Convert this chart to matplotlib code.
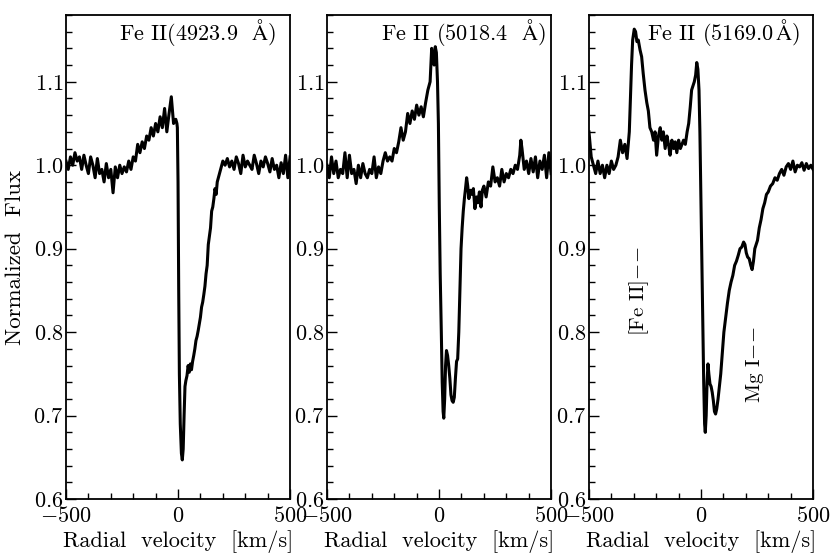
import matplotlib
matplotlib.use("Agg")
import matplotlib.pyplot as plt
from matplotlib.ticker import MultipleLocator

plt.rcParams['font.family'] = ['cmr10', 'DejaVu Serif']
plt.rcParams['mathtext.fontset'] = 'cm'
plt.rcParams['axes.formatter.use_mathtext'] = True
plt.rcParams['axes.unicode_minus'] = True

# Fe II 4923.9
vel_4923 = [-500, -490, -480, -470, -460, -450, -440, -430, -420, -410, -400, -390, -380, -370,
            -360, -350, -340, -330, -320, -310, -300, -290, -280, -270, -260, -250, -240, -230,
            -220, -210, -200, -190, -180, -170, -160, -150, -140, -130, -120, -110, -100, -90,
            -80, -70, -60, -50, -40, -30, -20, -10, -5, -3, 0, 3, 6, 10, 15, 19, 23, 27, 31, 35,
            40, 45, 50, 55, 60, 65, 70, 75, 80, 85, 90, 95, 100, 105, 110, 115, 120, 125, 130,
            135, 140, 145, 150, 155, 160, 165, 170, 175, 180, 190, 200, 210, 220, 230, 240, 250,
            260, 270, 280, 290, 300, 310, 320, 330, 340, 350, 360, 370, 380, 390, 400, 410, 420,
            430, 440, 450, 460, 470, 480, 490, 500]
flux_4923 = [1.005, 0.995, 1.010, 1.000, 1.015, 1.005, 1.010, 0.995, 1.012, 1.000, 0.990, 1.010,
             1.000, 0.985, 1.008, 0.990, 0.995, 0.980, 1.002, 0.985, 0.995, 0.967, 0.998, 0.985,
             1.000, 0.990, 0.998, 0.992, 1.005, 0.995, 1.010, 1.005, 1.025, 1.015, 1.028, 1.020,
             1.035, 1.030, 1.045, 1.035, 1.050, 1.040, 1.058, 1.045, 1.068, 1.040, 1.062, 1.082,
             1.050, 1.055, 1.050, 1.045, 0.980, 0.850, 0.750, 0.690, 0.655, 0.647, 0.660, 0.700,
             0.735, 0.742, 0.748, 0.760, 0.752, 0.762, 0.755, 0.765, 0.772, 0.780, 0.790, 0.795,
             0.802, 0.810, 0.818, 0.830, 0.836, 0.845, 0.855, 0.870, 0.880, 0.905, 0.915, 0.925,
             0.945, 0.950, 0.960, 0.972, 0.965, 0.980, 0.985, 0.995, 1.005, 1.000, 1.008, 0.998,
             1.005, 0.995, 1.010, 1.002, 0.990, 1.012, 0.998, 1.005, 1.000, 0.995, 1.012, 1.002,
             0.990, 1.005, 0.998, 1.010, 1.002, 0.992, 1.008, 0.995, 1.000, 0.985, 1.003, 0.990,
             1.012, 0.985, 1.010]

# Fe II 5018.4
vel_5018 = [-500, -490, -480, -470, -460, -450, -440, -430, -420, -410, -400, -390, -380, -370,
            -360, -350, -340, -330, -320, -310, -300, -290, -280, -270, -260, -250, -240, -230,
            -220, -210, -200, -190, -180, -170, -160, -150, -140, -130, -120, -110, -100, -90,
            -80, -70, -60, -50, -40, -33, -28, -22, -17, -12, -7, -3, 1, 5, 10, 14, 18, 21, 25,
            29, 33, 38, 43, 48, 53, 58, 63, 68, 73, 78, 83, 88, 93, 98, 103, 108, 113, 118, 123,
            128, 133, 140, 147, 153, 160, 167, 173, 180, 187, 193, 200, 210, 220, 230, 240, 250,
            260, 270, 280, 290, 300, 310, 320, 330, 340, 350, 360, 365, 370, 380, 390, 400, 410,
            420, 430, 440, 450, 460, 470, 480, 490, 500]
flux_5018 = [1.000, 0.985, 1.010, 0.990, 1.005, 0.985, 0.995, 0.990, 1.015, 0.985, 1.012, 0.990,
             0.995, 0.978, 1.000, 0.985, 1.002, 0.990, 0.985, 0.995, 0.990, 1.010, 0.985, 0.998,
             0.990, 1.005, 1.015, 1.005, 1.010, 1.005, 1.020, 1.015, 1.028, 1.045, 1.030, 1.040,
             1.062, 1.050, 1.065, 1.055, 1.072, 1.060, 1.070, 1.058, 1.075, 1.090, 1.100, 1.140,
             1.125, 1.120, 1.142, 1.135, 1.100, 1.050, 0.950, 0.870, 0.800, 0.740, 0.705, 0.697,
             0.720, 0.760, 0.778, 0.772, 0.760, 0.745, 0.725, 0.718, 0.716, 0.722, 0.745, 0.765,
             0.768, 0.800, 0.850, 0.900, 0.925, 0.945, 0.960, 0.972, 0.985, 0.975, 0.960, 0.970,
             0.965, 0.972, 0.948, 0.962, 0.955, 0.968, 0.950, 0.970, 0.975, 0.962, 0.980, 0.975,
             0.998, 0.980, 0.985, 0.975, 0.995, 0.980, 0.990, 0.985, 0.995, 0.990, 1.000, 0.995,
             1.012, 1.030, 1.020, 0.995, 1.005, 0.990, 1.008, 0.992, 1.010, 0.985, 1.005, 0.995,
             1.012, 0.985, 1.015, 0.990]

# Fe II 5169.0
vel_5169 = [-500, -495, -490, -480, -470, -460, -450, -440, -430, -420, -410, -400, -390, -380,
            -370, -360, -350, -340, -330, -320, -315, -310, -305, -298, -292, -286, -280, -272,
            -265, -258, -250, -242, -235, -228, -220, -212, -205, -198, -190, -182, -175, -168,
            -160, -152, -145, -138, -130, -122, -115, -108, -100, -92, -85, -78, -70, -62, -55,
            -48, -42, -36, -30, -24, -19, -14, -9, -5, 0, 4, 8, 12, 16, 19, 23, 27, 31, 35, 40,
            45, 50, 55, 60, 65, 70, 76, 82, 88, 95, 102, 110, 118, 126, 134, 142, 150, 158, 166,
            174, 182, 190, 196, 202, 208, 215, 222, 228, 234, 240, 246, 252, 260, 268, 276, 284,
            292, 300, 310, 320, 330, 340, 350, 360, 370, 380, 390, 400, 410, 420, 430, 440, 450,
            460, 470, 480, 490, 500]
flux_5169 = [1.040, 1.025, 1.010, 1.000, 0.990, 1.005, 0.990, 1.000, 0.985, 1.000, 0.990, 1.005,
             0.995, 1.000, 1.010, 1.030, 1.015, 1.025, 1.008, 1.040, 1.080, 1.120, 1.150, 1.163,
             1.160, 1.148, 1.150, 1.138, 1.130, 1.110, 1.090, 1.075, 1.065, 1.045, 1.040, 1.030,
             1.040, 1.012, 1.035, 1.045, 1.030, 1.040, 1.020, 1.035, 1.025, 1.012, 1.030, 1.020,
             1.028, 1.015, 1.030, 1.020, 1.025, 1.030, 1.025, 1.040, 1.050, 1.070, 1.090, 1.095,
             1.100, 1.108, 1.123, 1.115, 1.090, 1.040, 0.950, 0.870, 0.800, 0.740, 0.690, 0.680,
             0.700, 0.740, 0.762, 0.750, 0.738, 0.735, 0.728, 0.718, 0.705, 0.702, 0.708, 0.720,
             0.735, 0.750, 0.775, 0.800, 0.818, 0.835, 0.850, 0.860, 0.868, 0.880, 0.885, 0.892,
             0.900, 0.902, 0.908, 0.905, 0.895, 0.890, 0.888, 0.880, 0.875, 0.885, 0.900, 0.905,
             0.910, 0.925, 0.935, 0.948, 0.955, 0.965, 0.968, 0.975, 0.978, 0.985, 0.982, 0.990,
             0.995, 0.988, 0.998, 1.002, 0.995, 1.005, 0.992, 1.000, 0.998, 1.003, 0.994, 1.002,
             0.996, 1.000, 0.995]

panel_titles = [r'Fe II(4923.9  $\mathrm{\AA}$)', r'Fe II (5018.4  $\mathrm{\AA}$)',
                r'Fe II (5169.0$\,\mathrm{\AA}$)']
velocities = [vel_4923, vel_5018, vel_5169]
fluxes = [flux_4923, flux_5018, flux_5169]
title_x = [0.94, 0.978, 0.942]

fig = plt.figure(figsize=(8.3, 5.54), dpi=100)
lefts = [0.0795, 0.394, 0.7096]
axes = [fig.add_axes([l, 0.099, 0.27, 0.874]) for l in lefts]

for i, ax in enumerate(axes):
    ax.plot(velocities[i], fluxes[i], color='black', lw=2.2)
    ax.set_xlim(-500, 500)
    ax.set_ylim(0.6, 1.18)
    ax.set_xticks([-500, 0, 500])
    ax.xaxis.set_minor_locator(MultipleLocator(100))
    ax.set_yticks([0.6, 0.7, 0.8, 0.9, 1.0, 1.1])
    ax.yaxis.set_minor_locator(MultipleLocator(0.02))
    ax.tick_params(which='both', direction='in', top=False, right=False, labelsize=16, width=1)
    ax.tick_params(which='major', length=7)
    ax.tick_params(which='minor', length=4)
    ax.tick_params(axis='x', which='major', pad=5)
    ax.tick_params(axis='y', which='major', pad=2)
    for sp in ax.spines.values():
        sp.set_linewidth(1.3)
    ax.set_xlabel('Radial  velocity  [km/s]', fontsize=16, labelpad=3)
    ax.text(title_x[i], 0.995, panel_titles[i], transform=ax.transAxes,
            ha='right', va='top', fontsize=16)

axes[0].set_ylabel('Normalized  Flux', fontsize=16.5, labelpad=6)

axes[2].text(-275, 0.849, r'[Fe II]$-\!-$', rotation=90, ha='center', va='center', fontsize=15)
axes[2].text(240, 0.761, r'Mg I$-\!-$', rotation=90, ha='center', va='center', fontsize=15)

fig.savefig('out.png', dpi=100)
